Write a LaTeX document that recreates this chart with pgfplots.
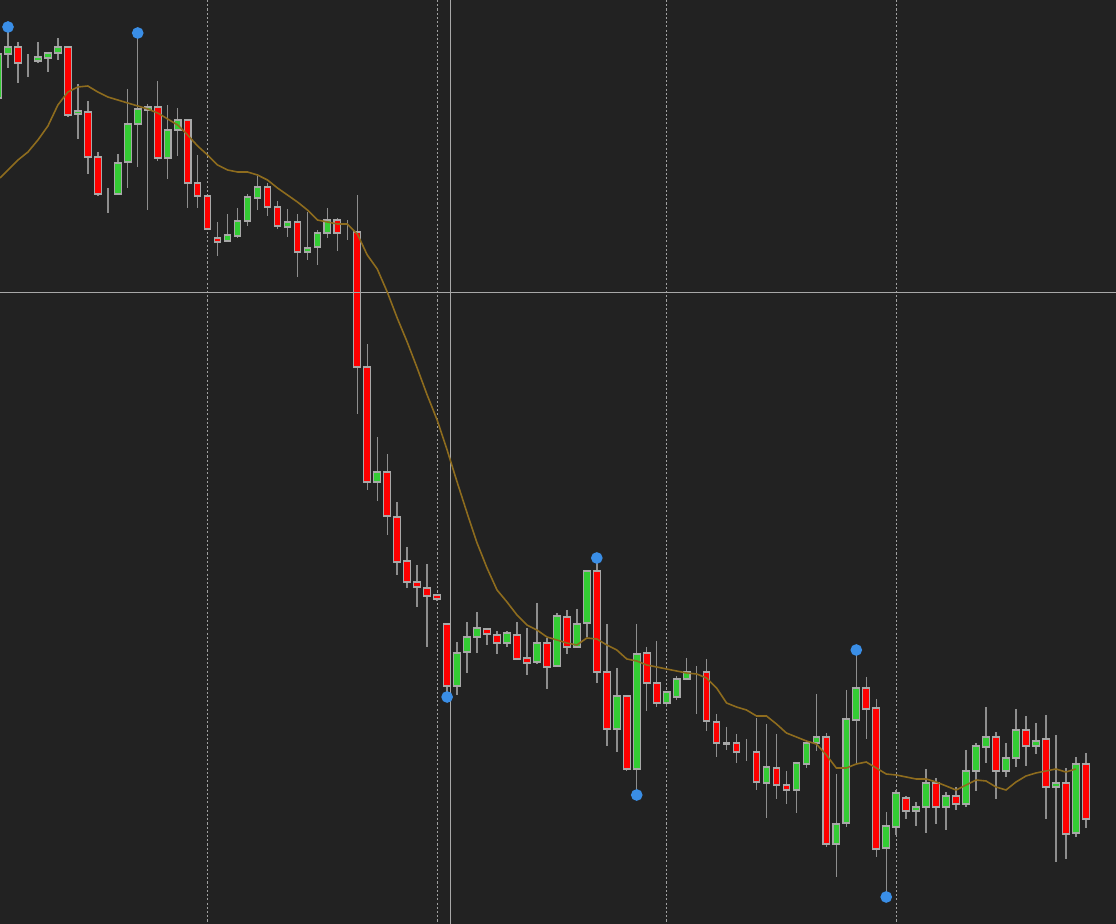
\documentclass[border=0pt]{standalone}
\usepackage{pgfplots}
\pgfplotsset{compat=1.18}
\usepackage{pgfplotstable}
\definecolor{bg}{HTML}{222222}
\definecolor{cred}{HTML}{FF0000}
\definecolor{cgreen}{HTML}{33CC33}
\definecolor{outl}{HTML}{A8A8A8}
\definecolor{wick}{HTML}{8E8E8E}
\definecolor{gridc}{HTML}{A0A0A0}
\definecolor{crossc}{HTML}{A8A8A8}
\definecolor{mac}{HTML}{8E6C1E}
\definecolor{dotc}{HTML}{3A8EE6}

\pgfplotstableread{
k o c h l
-1 98 54 50 100
0 54 47 30 68
1 47 63 42 83
2 62 62 54 77
3 61 57 42 63
4 58 53 52 72
5 53 47 38 60
6 47 115 47 117
7 114 111 84 139
8 112 157 101 174
9 157 194 152 196
10 193 193 188 213
11 194 163 154 194
12 162 124 89 188
13 124 109 33 167
14 110 107 104 210
15 107 158 81 161
16 158 130 105 179
17 130 120 108 156
18 120 183 119 208
19 183 196 155 208
20 196 229 196 230
21 238 242 222 256
22 241 235 214 242
23 236 221 208 238
24 221 197 194 226
25 198 187 176 210
26 187 207 183 216
27 207 226 201 229
28 227 222 209 237
29 222 252 214 277
30 252 248 212 260
31 247 233 230 265
32 233 220 208 238
33 220 233 218 251
34 233 233 220 240
35 232 367 195 414
36 367 482 344 490
37 482 472 437 501
38 472 516 454 535
39 517 562 502 575
40 561 582 547 588
41 582 587 565 607
42 588 596 564 647
43 595 599 594 601
44 624 686 624 695
45 686 653 642 695
46 652 637 622 673
47 637 628 612 653
48 629 634 629 645
49 635 643 631 654
50 643 633 631 647
51 635 659 622 660
52 658 663 628 675
53 662 643 603 664
54 643 667 638 689
55 666 616 613 667
56 617 647 610 654
57 647 624 609 647
58 623 571 571 637
59 571 672 560 683
60 672 729 624 746
61 729 696 668 752
62 696 769 696 771
63 769 654 624 793
64 653 683 647 711
65 683 703 641 707
66 703 692 692 707
67 697 679 676 700
68 679 672 658 679
69 672 672 666 714
70 672 721 659 731
71 722 743 714 757
72 744 743 727 750
73 743 752 734 763
74 751 751 739 761
75 752 782 718 790
76 783 767 724 818
77 768 785 734 799
78 785 790 771 804
79 790 763 763 813
80 764 743 740 768
81 743 737 694 751
82 737 844 733 847
83 844 824 774 877
84 823 719 690 827
85 720 688 653 763
86 688 709 677 739
87 708 849 699 857
88 848 826 812 895
89 827 793 790 835
90 798 811 796 819
91 811 807 802 826
92 807 783 769 833
93 783 807 778 824
94 807 796 792 830
95 796 804 787 810
96 804 771 750 807
97 771 746 743 791
98 747 737 707 763
99 737 771 732 799
100 771 758 743 777
101 758 730 709 767
102 730 746 716 766
103 746 741 723 754
104 739 787 715 819
105 787 783 735 862
106 783 834 768 859
107 833 764 757 837
108 764 819 753 828
}\candles

\pgfplotstableread{
k v
-0.8 178
0 170
1 160
2 152
3 140
4 126
5 105
6 92
7 87
8 86
9 92
10 97
11 100
12 103
13 106
14 109
15 113
16 119
17 125
18 135
19 146
20 155
21 165
22 170
23 172
24 172
25 175
26 180
27 188
28 195
29 202
30 210
31 220
32 222
33 224
34 224
35 234
36 255
37 269
38 292
39 318
40 342
41 368
42 395
43 420
44 450
45 482
46 513
47 543
48 568
49 590
50 602
51 615
52 625
53 630
54 637
55 640
56 643
57 645
58 638
59 639
60 645
61 650
62 659
63 661
64 665
65 667
66 669
67 671
68 673
69 674
70 678
71 688
72 703
73 707
74 710
75 716
76 716
77 724
78 733
79 737
80 741
81 744
82 755
83 768
84 768
85 764
86 762
87 768
88 774
89 775
90 777
91 779
92 779
93 782
94 786
95 790
96 785
97 780
98 781
99 787
100 790
101 782
102 776
103 773
104 771
105 769
106 772
107 769
}\ma

\pgfplotstableread{
k v
0 27
13 33
44 697
59 558
63 795
85 650
88 897
}\dots

\pgfplotsset{common/.style={at={(0,0)}, anchor=south west, scale only axis,
  width=11.16cm, height=9.24cm, xmin=-0.8016, xmax=111.022, ymin=0, ymax=924,
  y dir=reverse, hide axis, clip=true}}

\begin{document}
\begin{tikzpicture}
\fill[bg] (0,0) rectangle (11.16cm,9.24cm);
% layer 1: grid + wicks
\begin{axis}[common]
\foreach \g in {20,43,66,89}{
  \edef\tmp{\noexpand\draw[gridc, line width=0.3pt, dash pattern=on 0.6pt off 0.6pt] (axis cs:\g,0) -- (axis cs:\g,924);}
  \tmp
}
\addplot[draw=none, error bars/.cd, y dir=plus, y explicit, error mark=none,
  error bar style={wick, line width=0.42pt}]
  table[x=k, y=h, y error expr=\thisrow{l}-\thisrow{h}] {\candles};
\end{axis}
% layer 2: bodies
\begin{axis}[common, ybar stacked, bar width=0.67]
\addplot[draw=none, fill=none] table[x=k, y expr={min(\thisrow{o},\thisrow{c})}] {\candles};
\addplot[draw=outl, fill=cred, line width=0.3pt] table[x=k, y expr={ifthenelse(\thisrow{c}>\thisrow{o}, \thisrow{c}-\thisrow{o}, 0)}] {\candles};
\addplot[draw=outl, fill=cgreen, line width=0.3pt] table[x=k, y expr={ifthenelse(\thisrow{o}>\thisrow{c}, \thisrow{o}-\thisrow{c}, 0)}] {\candles};
\end{axis}
% layer 3: MA, crosshair, dots
\begin{axis}[common]
\draw[crossc, line width=0.27pt] (axis cs:-0.8016,292) -- (axis cs:111.022,292);
\draw[crossc, line width=0.27pt] (axis cs:44.29,0) -- (axis cs:44.29,924);
\addplot[mac, line width=0.45pt, mark=none] table[x=k, y=v] {\ma};
\addplot[only marks, mark=*, mark size=1.45pt, dotc, mark options={draw=dotc, fill=dotc}] table[x=k, y=v] {\dots};
\end{axis}
\pgfresetboundingbox
\path[use as bounding box] (0,0) rectangle (11.16cm,9.24cm);
\end{tikzpicture}
\end{document}
